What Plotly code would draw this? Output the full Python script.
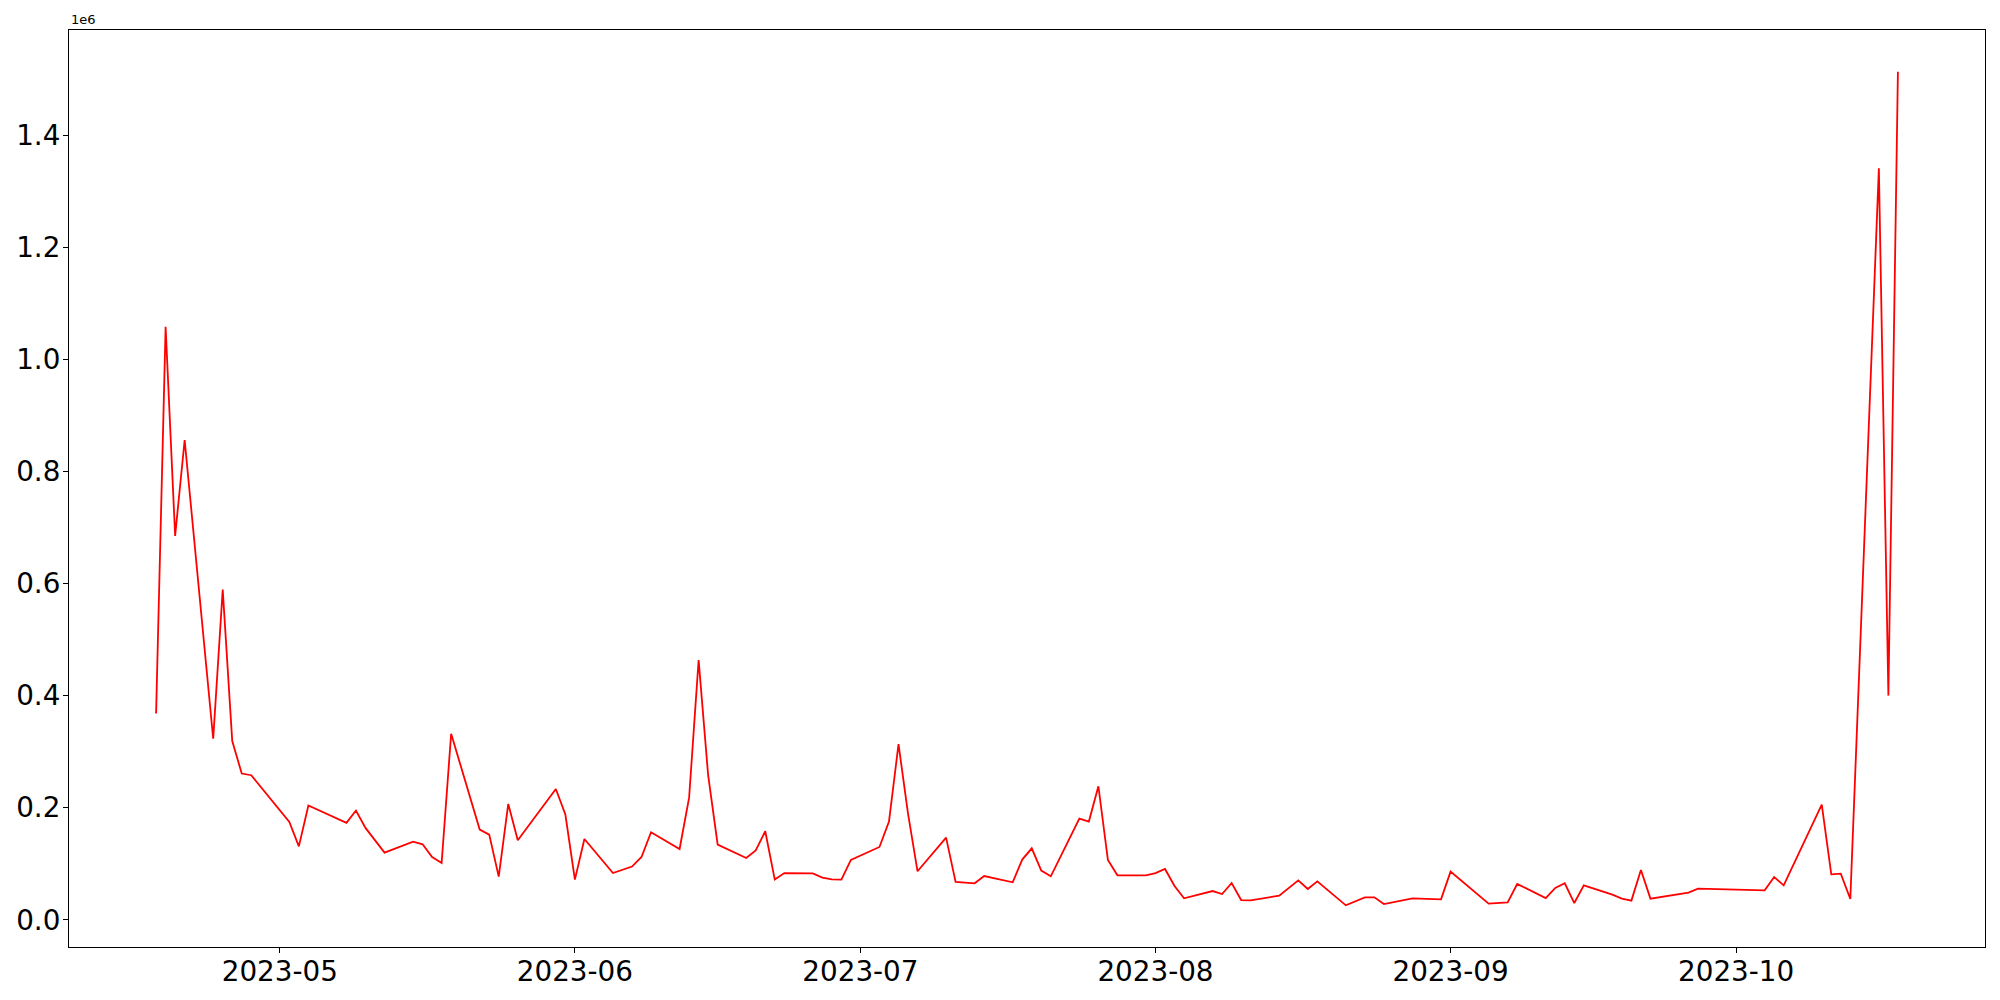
import pandas as pd
import plotly.graph_objects as go

dates = [
    "2023-04-18", "2023-04-19", "2023-04-20", "2023-04-21", "2023-04-24", "2023-04-25",
    "2023-04-26", "2023-04-27", "2023-04-28",
    "2023-05-02", "2023-05-03", "2023-05-04", "2023-05-08", "2023-05-09", "2023-05-10",
    "2023-05-12", "2023-05-15", "2023-05-16", "2023-05-17", "2023-05-18", "2023-05-19",
    "2023-05-22", "2023-05-23", "2023-05-24", "2023-05-25", "2023-05-26", "2023-05-30",
    "2023-05-31",
    "2023-06-01", "2023-06-02", "2023-06-05", "2023-06-07", "2023-06-08", "2023-06-09",
    "2023-06-12", "2023-06-13", "2023-06-14", "2023-06-15", "2023-06-16", "2023-06-19",
    "2023-06-20", "2023-06-21", "2023-06-22", "2023-06-23", "2023-06-26", "2023-06-27",
    "2023-06-28", "2023-06-29", "2023-06-30",
    "2023-07-03", "2023-07-04", "2023-07-05", "2023-07-06", "2023-07-07", "2023-07-10",
    "2023-07-11", "2023-07-13", "2023-07-14", "2023-07-17", "2023-07-18", "2023-07-19",
    "2023-07-20", "2023-07-21", "2023-07-24", "2023-07-25", "2023-07-26", "2023-07-27",
    "2023-07-28", "2023-07-31",
    "2023-08-01", "2023-08-02", "2023-08-03", "2023-08-04", "2023-08-07", "2023-08-08",
    "2023-08-09", "2023-08-10", "2023-08-11", "2023-08-14", "2023-08-16", "2023-08-17",
    "2023-08-18", "2023-08-21", "2023-08-23", "2023-08-24", "2023-08-25", "2023-08-28",
    "2023-08-31",
    "2023-09-01", "2023-09-05", "2023-09-07", "2023-09-08", "2023-09-11", "2023-09-12",
    "2023-09-13", "2023-09-14", "2023-09-15", "2023-09-18", "2023-09-19", "2023-09-20",
    "2023-09-21", "2023-09-22", "2023-09-26", "2023-09-27",
    "2023-10-04", "2023-10-05", "2023-10-06", "2023-10-10", "2023-10-11", "2023-10-12",
    "2023-10-13", "2023-10-16", "2023-10-17", "2023-10-18",
]

values = [
    368000, 1058000, 685000, 856000, 323000, 589000,
    319000, 261000, 258000,
    174600, 131000, 204000, 173000, 195000, 164000,
    120000, 139600, 134800, 112000, 101400, 332000,
    161000, 152000, 77100, 206700, 141900, 233500,
    187800,
    71800, 144200, 83500, 95000, 112100, 156200,
    126400, 218000, 463200, 258000, 134200, 110300,
    124000, 158000, 71800, 83500, 83000, 75300,
    72300, 71800, 106800,
    130000, 175300, 313300, 189600, 86600, 146700,
    67500, 65200, 78200, 67000, 107500, 127600,
    87800, 77700, 180600, 175300, 238300, 106800,
    79400, 79400,
    83500, 90700, 60300, 38400, 51400, 46100,
    65700, 35300, 34800, 43200, 70500, 55000,
    68700, 25900, 40200, 40200, 28200, 38400,
    36600,
    86000, 28900, 31200, 63900, 38900, 56800,
    65200, 30000, 61600, 45000, 37800, 34300,
    88900, 37800, 48600, 55700,
    52700, 76400, 61600, 205600, 81200, 82500,
    37100, 1340600, 400000, 1513000,
]

y_tick_vals = [0, 200000, 400000, 600000, 800000, 1000000, 1200000, 1400000]
y_tick_text = ["0.0", "0.2", "0.4", "0.6", "0.8", "1.0", "1.2", "1.4"]
x_tick_vals = ["2023-05-01", "2023-06-01", "2023-07-01", "2023-08-01", "2023-09-01", "2023-10-01"]
x_tick_text = ["2023-05", "2023-06", "2023-07", "2023-08", "2023-09", "2023-10"]

# matplotlib-like 5% margins
dt = pd.to_datetime(dates)
span = dt.max() - dt.min()
x_range = [dt.min() - span * 0.05, dt.max() + span * 0.05]
vmin, vmax = min(values), max(values)
vspan = vmax - vmin
y_range = [vmin - 0.05 * vspan, vmax + 0.05 * vspan]

fig = go.Figure()
fig.add_trace(go.Scatter(
    x=dates, y=values, mode="lines",
    line=dict(color="#ff0000", width=1.8),
    showlegend=False,
))

axis_common = dict(
    showline=True, linecolor="black", linewidth=1.1, mirror=True,
    showgrid=False, zeroline=False, automargin=False,
    ticks="outside", ticklen=5, tickwidth=1.1, tickcolor="black",
)

fig.update_xaxes(
    type="date", range=x_range,
    tickmode="array", tickvals=x_tick_vals, ticktext=x_tick_text,
    tickfont=dict(family="DejaVu Sans", size=27.8, color="black"),
    ticklabelstandoff=-5,
    **axis_common,
)
fig.update_yaxes(
    range=y_range,
    tickmode="array", tickvals=y_tick_vals, ticktext=y_tick_text,
    tickfont=dict(family="DejaVu Sans", size=27.8, color="black"),
    ticklabelstandoff=-3,
    **axis_common,
)

fig.add_annotation(
    text="1e6", xref="paper", yref="paper", x=0, y=1,
    xanchor="left", yanchor="bottom", showarrow=False, yshift=1,
    font=dict(family="DejaVu Sans", size=13, color="black"),
)

fig.update_layout(
    width=2000, height=1000,
    margin=dict(l=69, r=15, t=30, b=53),
    paper_bgcolor="white", plot_bgcolor="white",
    font=dict(family="DejaVu Sans", color="black"),
)

fig.write_html(
    "out.html",
    config={"displayModeBar": False},
    post_script="document.body.style.margin='0px';",
)
